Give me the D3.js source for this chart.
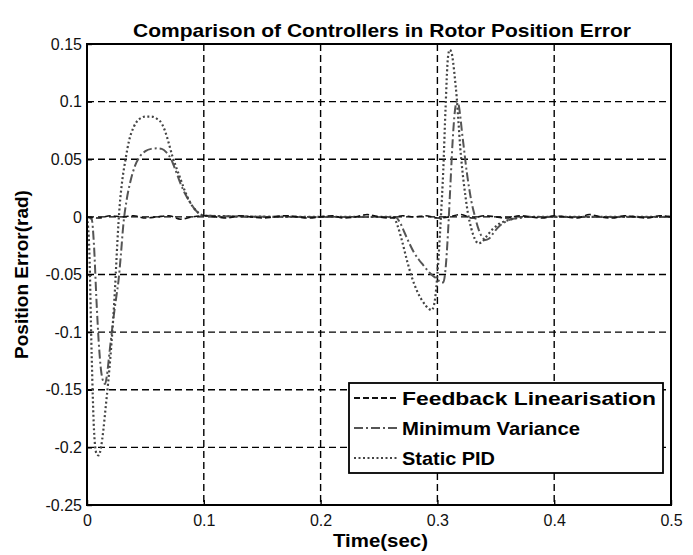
<!DOCTYPE html>
<html>
<head>
<meta charset="utf-8">
<script src="https://cdn.jsdelivr.net/npm/d3@7"></script>
<style>
  body { margin: 0; background: #fff; }
  text { font-family: "Liberation Sans", Arial, sans-serif; }
</style>
</head>
<body>
<svg id="errorChart"></svg>
<script>
// ---- data ----
const xTicks = [0, 0.1, 0.2, 0.3, 0.4, 0.5];
const xTickLabels = ["0", "0.1", "0.2", "0.3", "0.4", "0.5"];
const yTicks = [0.15, 0.1, 0.05, 0, -0.05, -0.1, -0.15, -0.2, -0.25];
const yTickLabels = ["0.15", "0.1", "0.05", "0", "-0.05", "-0.1", "-0.15", "-0.2", "-0.25"];

const seriesNames = ["Feedback Linearisation", "Minimum Variance", "Static PID"];

// feedback linearisation: stays on zero with a little ripple
const flTime = [0, 0.01, 0.02, 0.03, 0.04, 0.05, 0.06, 0.07, 0.08, 0.09,
  0.1, 0.11, 0.12, 0.13, 0.14, 0.15, 0.16, 0.17, 0.18, 0.19,
  0.2, 0.21, 0.22, 0.23, 0.24, 0.25, 0.26, 0.27, 0.28, 0.29,
  0.3, 0.31, 0.32, 0.33, 0.34, 0.35, 0.36, 0.37, 0.38, 0.39,
  0.4, 0.41, 0.42, 0.43, 0.44, 0.45, 0.46, 0.47, 0.48, 0.49, 0.5];
const flError = [0, -0.001, 0.001, 0, 0.001, -0.001, 0, 0.001, -0.002, 0,
  0.001, 0, -0.001, 0.001, 0, -0.001, 0, 0.001, 0, -0.001,
  0, 0.001, -0.001, 0, 0.002, 0, -0.001, 0.001, 0, 0.001,
  -0.001, 0, 0.002, -0.001, 0.001, 0, -0.001, 0.001, 0, -0.001,
  0.001, 0, -0.001, 0.002, 0, -0.001, 0.001, 0, -0.001, 0.001, 0];

// minimum variance
const mvTime = [0, 0.004, 0.006, 0.008, 0.010, 0.012, 0.014, 0.0155, 0.017, 0.019,
  0.021, 0.023, 0.025, 0.027, 0.029, 0.031, 0.034, 0.037, 0.041, 0.045,
  0.050, 0.055, 0.060, 0.064, 0.068, 0.072, 0.076, 0.080, 0.084, 0.088,
  0.092, 0.096, 0.100, 0.18, 0.264,
  0.268, 0.272, 0.276, 0.280, 0.284, 0.288, 0.292, 0.296, 0.300, 0.303,
  0.305, 0.307, 0.309, 0.311, 0.313, 0.315, 0.3165, 0.318, 0.3195, 0.321,
  0.323, 0.325, 0.327, 0.329, 0.332, 0.335, 0.338, 0.341, 0.344, 0.348,
  0.352, 0.357, 0.363, 0.370, 0.378, 0.44, 0.5];
const mvError = [0, -0.002, -0.025, -0.07, -0.108, -0.133, -0.143, -0.145, -0.138, -0.12,
  -0.102, -0.085, -0.07, -0.055, -0.033, -0.008, 0.015, 0.03, 0.044, 0.052,
  0.057, 0.059, 0.0595, 0.059, 0.056, 0.050, 0.040, 0.029, 0.020, 0.013,
  0.007, 0.003, 0.001, 0, 0,
  -0.005, -0.014, -0.023, -0.031, -0.037, -0.042, -0.047, -0.051, -0.054, -0.057,
  -0.057, -0.045, -0.015, 0.025, 0.065, 0.092, 0.100, 0.098, 0.088, 0.074,
  0.057, 0.040, 0.026, 0.014, 0.001, -0.010, -0.017, -0.020, -0.019, -0.014,
  -0.009, -0.005, -0.002, -0.001, 0, 0, 0];

// static PID
const pidTime = [0, 0.002, 0.004, 0.006, 0.008, 0.010, 0.012, 0.014, 0.016, 0.018,
  0.020, 0.022, 0.024, 0.026, 0.028, 0.030, 0.033, 0.036, 0.040, 0.045,
  0.050, 0.055, 0.060, 0.064, 0.067, 0.070, 0.073, 0.076, 0.080, 0.084,
  0.088, 0.092, 0.096, 0.100, 0.18, 0.262,
  0.266, 0.270, 0.274, 0.278, 0.282, 0.286, 0.290, 0.293, 0.295, 0.297,
  0.299, 0.301, 0.303, 0.305, 0.307, 0.309, 0.3105, 0.312, 0.3135, 0.315,
  0.3165, 0.318, 0.3195, 0.321, 0.3225, 0.324, 0.326, 0.329, 0.332, 0.335,
  0.338, 0.342, 0.347, 0.353, 0.360, 0.368, 0.376, 0.44, 0.5];
const pidError = [0, -0.03, -0.12, -0.185, -0.205, -0.207, -0.200, -0.185, -0.165, -0.145,
  -0.122, -0.095, -0.062, -0.022, 0.010, 0.030, 0.050, 0.066, 0.078, 0.085,
  0.087, 0.087, 0.085, 0.081, 0.074, 0.064, 0.053, 0.044, 0.033, 0.022,
  0.013, 0.007, 0.003, 0.001, 0, 0,
  -0.008, -0.022, -0.038, -0.052, -0.063, -0.071, -0.077, -0.080, -0.081, -0.077,
  -0.062, -0.035, 0.000, 0.040, 0.095, 0.138, 0.145, 0.143, 0.134, 0.120,
  0.104, 0.083, 0.061, 0.044, 0.030, 0.018, 0.004, -0.010, -0.019, -0.023,
  -0.022, -0.017, -0.011, -0.006, -0.003, -0.001, 0, 0, 0];

// ---- chart ----
function getConfig(){
    let width = 693;
    let height = 555;
    let margin = { top: 44, bottom: 50, left: 87, right: 22 };
    let bodyWidth = width - margin.left - margin.right;
    let bodyHeight = height - margin.top - margin.bottom;
    let container = d3.select('#errorChart')
        .attr('width', width)
        .attr('height', height);
    return { width, height, margin, bodyWidth, bodyHeight, container };
}

function getScales(config){
    let xScale = d3.scaleLinear()
        .domain([0, 0.5])
        .range([0, config.bodyWidth]);
    let yScale = d3.scaleLinear()
        .domain([-0.25, 0.15])
        .range([config.bodyHeight, 0]);
    return { xScale, yScale };
}

function drawGridAndAxes(scales, config){
    let { xScale, yScale } = scales;
    let { container, margin, bodyWidth, bodyHeight } = config;
    let body = container.append('g')
        .attr('transform', `translate(${margin.left},${margin.top})`);

    // dashed grid, interior ticks only
    body.append('g').selectAll('line')
        .data(xTicks.slice(1, -1))
        .enter().append('line')
        .attr('x1', d => xScale(d)).attr('x2', d => xScale(d))
        .attr('y1', 0).attr('y2', bodyHeight)
        .attr('stroke', '#000').attr('stroke-width', 1.4)
        .attr('stroke-dasharray', '7,4');
    body.append('g').selectAll('line')
        .data(yTicks.slice(1, -1))
        .enter().append('line')
        .attr('y1', d => yScale(d)).attr('y2', d => yScale(d))
        .attr('x1', 0).attr('x2', bodyWidth)
        .attr('stroke', '#000').attr('stroke-width', 1.4)
        .attr('stroke-dasharray', '7,4');

    let axisX = d3.axisBottom(xScale)
        .tickValues(xTicks)
        .tickFormat((d, i) => xTickLabels[i])
        .tickSize(-5)
        .tickPadding(10);
    body.append('g')
        .attr('class', 'axis')
        .attr('transform', `translate(0,${bodyHeight})`)
        .call(axisX);

    let axisY = d3.axisLeft(yScale)
        .tickValues(yTicks)
        .tickFormat((d, i) => yTickLabels[i])
        .tickSize(-5)
        .tickPadding(5);
    body.append('g')
        .attr('class', 'axis')
        .call(axisY);

    container.selectAll('.axis .domain').remove();
    container.selectAll('.axis text')
        .style('font-size', '16px')
        .style('fill', '#111');
    container.selectAll('.axis line')
        .attr('stroke', '#000').attr('stroke-width', 1.4);

    return body;
}

function drawLines(body, scales){
    let { xScale, yScale } = scales;
    let line = d3.line()
        .x(d => xScale(d[0]))
        .y(d => yScale(d[1]))
        .curve(d3.curveMonotoneX);

    let series = [
        { time: mvTime, value: mvError, color: '#555', width: 2, dash: '9,3,2,3' },
        { time: pidTime, value: pidError, color: '#444', width: 2.2, dash: '2,2.5' },
        { time: flTime, value: flError, color: '#111', width: 1.6, dash: '6,3' }
    ];
    series.forEach(s => {
        body.append('path')
            .datum(s.time.map((t, i) => [t, s.value[i]]))
            .attr('d', line)
            .attr('fill', 'none')
            .attr('stroke', s.color)
            .attr('stroke-width', s.width)
            .attr('stroke-dasharray', s.dash);
    });
}

function drawFrameAndText(body, config){
    let { container, margin, bodyWidth, bodyHeight } = config;
    body.append('rect')
        .attr('width', bodyWidth).attr('height', bodyHeight)
        .attr('fill', 'none').attr('stroke', '#000').attr('stroke-width', 2);

    container.append('text')
        .attr('x', 133)
        .attr('y', 37)
        .attr('textLength', 498).attr('lengthAdjust', 'spacingAndGlyphs')
        .style('font-size', '19px').style('font-weight', 'bold')
        .text('Comparison of Controllers in Rotor Position Error');

    container.append('text')
        .attr('x', 333)
        .attr('y', 547)
        .attr('textLength', 95).attr('lengthAdjust', 'spacingAndGlyphs')
        .style('font-size', '19px').style('font-weight', 'bold')
        .text('Time(sec)');

    container.append('text')
        .attr('transform', `translate(28,${margin.top + bodyHeight / 2}) rotate(-90)`)
        .attr('text-anchor', 'middle')
        .style('font-size', '19px').style('font-weight', 'bold')
        .text('Position Error(rad)');
}

function drawLegend(config){
    let { container } = config;
    let legend = container.append('g').attr('transform', 'translate(349,383)');
    legend.append('rect')
        .attr('width', 314).attr('height', 90)
        .attr('fill', '#fff').attr('stroke', '#000').attr('stroke-width', 1.8);

    let styles = [
        { color: '#111', width: 1.8, dash: '6,3' },
        { color: '#555', width: 2, dash: '9,3,2,3' },
        { color: '#444', width: 2.2, dash: '2,2.5' }
    ];
    let textWidths = [254, 178, 93];
    let rows = legend.selectAll('.row')
        .data(seriesNames)
        .enter().append('g')
        .attr('transform', (d, i) => `translate(0,${15 + i * 30})`);
    rows.append('line')
        .attr('x1', 5).attr('x2', 48)
        .attr('stroke', (d, i) => styles[i].color)
        .attr('stroke-width', (d, i) => styles[i].width)
        .attr('stroke-dasharray', (d, i) => styles[i].dash);
    rows.append('text')
        .attr('x', 53).attr('dy', '0.35em')
        .attr('textLength', (d, i) => textWidths[i]).attr('lengthAdjust', 'spacingAndGlyphs')
        .style('font-size', '19px').style('font-weight', 'bold')
        .text(d => d);
}

let config = getConfig();
let scales = getScales(config);
let body = drawGridAndAxes(scales, config);
drawLines(body, scales);
drawFrameAndText(body, config);
drawLegend(config);
</script>
</body>
</html>
